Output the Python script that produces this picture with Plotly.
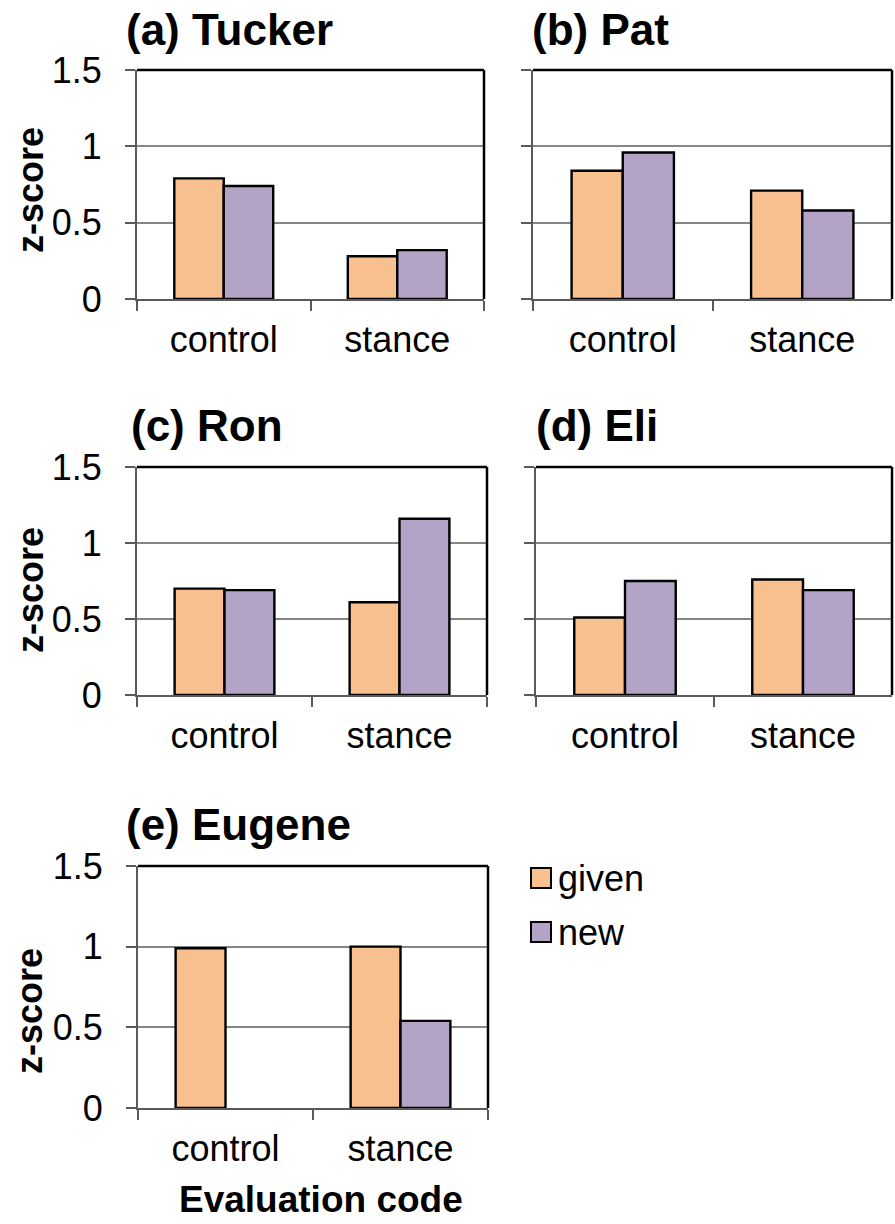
import plotly.graph_objects as go

# ---------------- data ----------------
categories = ["control", "stance"]
panel_titles = ["(a) Tucker", "(b) Pat", "(c) Ron", "(d) Eli", "(e) Eugene"]
series_names = ["given", "new"]

tucker_given = [0.79, 0.28]
tucker_new = [0.74, 0.32]
pat_given = [0.84, 0.71]
pat_new = [0.96, 0.58]
ron_given = [0.70, 0.61]
ron_new = [0.69, 1.16]
eli_given = [0.51, 0.76]
eli_new = [0.75, 0.69]
eugene_given = [0.99, 1.00]
eugene_new = [None, 0.54]

y_tickvals = [0, 0.5, 1, 1.5]
y_ticktext = ["0", "0.5", "1", "1.5"]
y_axis_title = "z-score"
x_axis_title = "Evaluation code"

# ---------------- layout helpers ----------------
W, H = 895, 1224
FONT = "Liberation Sans, Arial, Helvetica, sans-serif"
GIVEN_COLOR = "#F9C08F"
NEW_COLOR = "#B2A3C7"
GRID = "#868686"
AXIS = "#5a5a5a"


def px(x):
    return x / W


def py(y):
    return 1 - y / H


# plot boxes in pixels: (left, right, top, bottom)
boxes = [
    (137, 484, 70, 299),
    (533, 892, 70, 299),
    (137, 487, 467, 695),
    (536, 892, 467, 695),
    (138, 488, 866, 1108),
]
show_y_labels = [True, False, True, False, True]
panel_data = [
    (tucker_given, tucker_new),
    (pat_given, pat_new),
    (ron_given, ron_new),
    (eli_given, eli_new),
    (eugene_given, eugene_new),
]

fig = go.Figure()
layout = dict(
    width=W,
    height=H,
    autosize=False,
    margin=dict(l=0, r=0, t=0, b=0, pad=0),
    paper_bgcolor="white",
    plot_bgcolor="white",
    barmode="group",
    bargap=0.43,
    bargroupgap=0,
    showlegend=False,
    font=dict(family=FONT, color="black", size=36),
)
shapes = []
annotations = []

for i, ((l, r, t, b), (g, n)) in enumerate(zip(boxes, panel_data)):
    k = "" if i == 0 else str(i + 1)
    xa, ya = "x" + k, "y" + k
    fig.add_trace(go.Bar(x=categories, y=g, name=series_names[0], xaxis=xa, yaxis=ya,
                         marker=dict(color=GIVEN_COLOR, line=dict(color="black", width=2.4))))
    fig.add_trace(go.Bar(x=categories, y=n, name=series_names[1], xaxis=xa, yaxis=ya,
                         marker=dict(color=NEW_COLOR, line=dict(color="black", width=2.4))))
    layout["xaxis" + k] = dict(
        domain=[px(l), px(r)], anchor=ya, type="category", range=[-0.5, 1.5],
        categoryorder="array", categoryarray=categories, automargin=False,
        showline=True, linecolor=AXIS, linewidth=2,
        ticks="outside", tickson="boundaries", ticklen=10, tickwidth=2, tickcolor=AXIS,
        showgrid=False, tickfont=dict(size=36, color="black"), ticklabelstandoff=8,
        fixedrange=True,
    )
    layout["yaxis" + k] = dict(
        domain=[py(b), py(t)], anchor=xa, range=[0, 1.5], automargin=False,
        tickvals=y_tickvals, ticktext=y_ticktext,
        showticklabels=show_y_labels[i],
        showline=True, linecolor=AXIS, linewidth=2, zeroline=False,
        showgrid=True, gridcolor=GRID, gridwidth=1.5,
        ticks="outside", ticklen=10, tickwidth=2, tickcolor=AXIS,
        tickfont=dict(size=36, color="black"), ticklabelstandoff=16,
        fixedrange=True,
    )
    # black top and right borders of the plot area
    shapes.append(dict(type="line", xref=xa + " domain", yref=ya + " domain",
                       x0=0, x1=1, y0=1, y1=1, line=dict(color="black", width=2.5)))
    shapes.append(dict(type="line", xref=xa + " domain", yref=ya + " domain",
                       x0=1, x1=1, y0=0, y1=1, line=dict(color="black", width=2.5)))

# panel titles
title_pos = [(124, 29), (530, 29), (129, 425), (534, 425), (124, 824)]
for txt, (x, y) in zip(panel_titles, title_pos):
    annotations.append(dict(text="<b>" + txt + "</b>", x=px(x), y=py(y), xref="paper", yref="paper",
                            xanchor="left", yanchor="middle", showarrow=False,
                            font=dict(size=44, family=FONT, color="black")))

# y axis titles
for (x, y) in [(30, 190), (30, 590), (30, 1011)]:
    annotations.append(dict(text="<b>" + y_axis_title + "</b>", x=px(x), y=py(y), xref="paper", yref="paper",
                            xanchor="center", yanchor="middle", textangle=-90, showarrow=False,
                            font=dict(size=36, family=FONT, color="black")))

# x axis title
annotations.append(dict(text="<b>" + x_axis_title + "</b>", x=px(321), y=py(1199), xref="paper", yref="paper",
                        xanchor="center", yanchor="middle", showarrow=False,
                        font=dict(size=37, family=FONT, color="black")))

# legend (manual swatches)
legend_rows = [(878, GIVEN_COLOR, series_names[0]), (932, NEW_COLOR, series_names[1])]
for yc, col, name in legend_rows:
    shapes.append(dict(type="rect", xref="paper", yref="paper",
                       x0=px(531), x1=px(551), y0=py(yc + 10), y1=py(yc - 10),
                       fillcolor=col, line=dict(color="black", width=2)))
    annotations.append(dict(text=name, x=px(556), y=py(yc), xref="paper", yref="paper",
                            xanchor="left", yanchor="middle", showarrow=False,
                            font=dict(size=36, family=FONT, color="black")))

layout["shapes"] = shapes
layout["annotations"] = annotations
fig.update_layout(**layout)
fig.write_html(
    "out.html",
    config={"responsive": False, "displayModeBar": False},
    post_script="document.body.style.margin='0';document.body.style.padding='0';document.body.style.overflow='hidden';",
)
